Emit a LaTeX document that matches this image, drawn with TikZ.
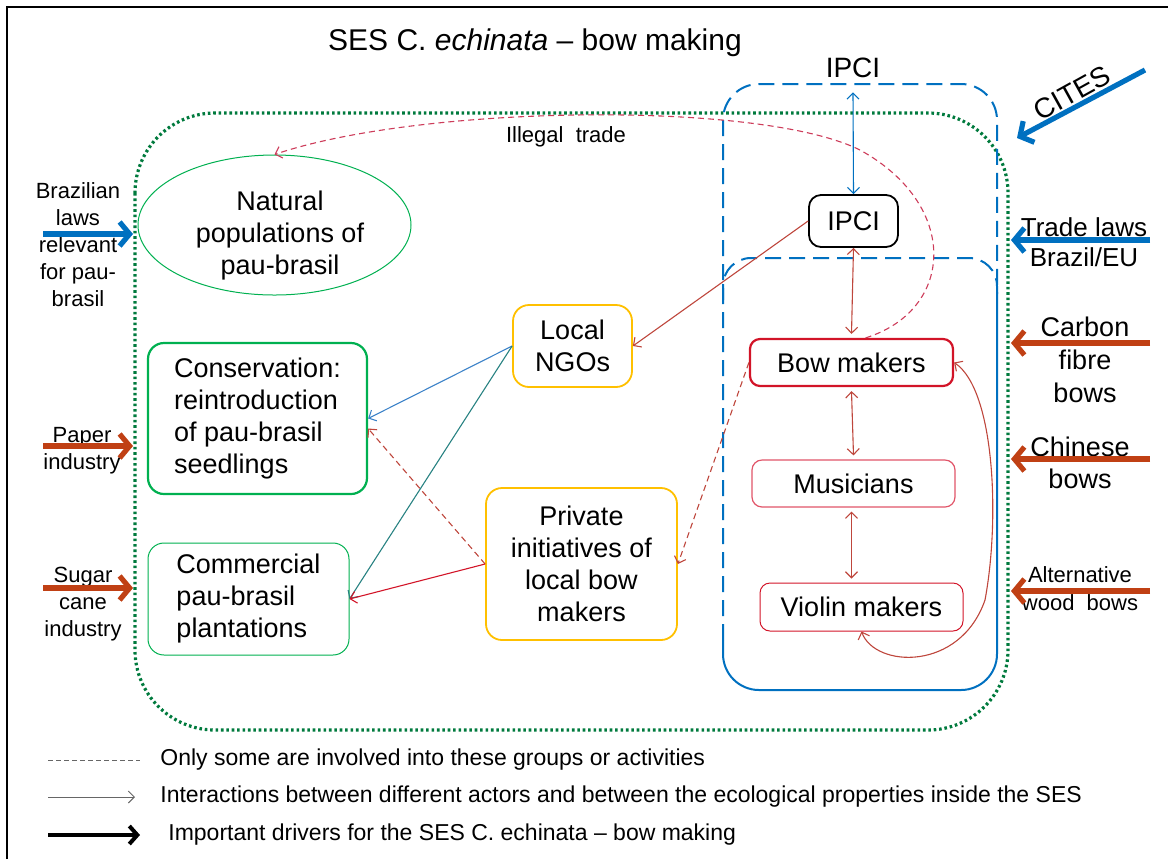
\documentclass[tikz,border=0pt]{standalone}
\usepackage{fontspec}
\setmainfont{Liberation Sans}
\usepackage{xcolor}
\usepackage{tikz}
\usetikzlibrary{arrows.meta,shapes.geometric}

\definecolor{sesgreen}{RGB}{0,122,61}
\definecolor{boxgreen}{RGB}{0,176,80}
\definecolor{ipciblue}{RGB}{0,112,192}
\definecolor{drvred}{RGB}{192,64,20}
\definecolor{ngoyellow}{RGB}{255,192,0}
\definecolor{bowred}{RGB}{210,20,40}
\definecolor{musred}{RGB}{225,85,105}
\definecolor{linkred}{RGB}{190,70,60}
\definecolor{linkblue}{RGB}{60,130,200}
\definecolor{linkteal}{RGB}{40,130,130}
\definecolor{illegalred}{RGB}{205,60,90}

\begin{document}
\begin{tikzpicture}[x=0.5pt,y=-0.5pt,
    >={Straight Barb[length=3pt,width=6pt]},
    actor/.style={draw,rounded corners=8pt,align=center,inner sep=2pt,font=\fontsize{13.5}{16}\selectfont},
    driver/.style={line width=2.6pt,-{Straight Barb[length=5pt,width=12pt]}},
    drvtext/.style={align=center,inner sep=0pt,font=\fontsize{11}{13.5}\selectfont},
    legtext/.style={anchor=west,inner sep=0pt,font=\fontsize{11.5}{13}\selectfont},
    link/.style={line width=0.55pt},
    ipcidash/.style={ipciblue,line width=1pt,dash pattern=on 8pt off 4pt}]
        \useasboundingbox (0,0) rectangle (1168,859);
        % Frame
        \draw[line width=1pt] (7,859) -- (7,7) -- (1168,7);

        % Title
        \node[font=\fontsize{15}{17}\selectfont] (title) at (535,43) {SES C. \textit{echinata} -- bow making};

        % SES boundary
        \draw[sesgreen,line width=1.6pt,dash pattern=on 1.3pt off 1.4pt,rounded corners=40pt] (135,113) rectangle (1008,730);

        % IPCI group and bow making group
        \draw[ipcidash,rounded corners=18pt] (723,640) -- (723,84) -- (997,84) -- (997,292);
        \draw[ipcidash,rounded corners=14pt] (723,300) -- (723,258) -- (997,258) -- (997,300);
        \draw[ipciblue,line width=1pt,rounded corners=18pt] (997,292) -- (997,690) -- (723,690) -- (723,640);
        \node[font=\fontsize{14}{16}\selectfont,inner sep=2pt] (ipcitop) at (853,68) {IPCI};

        % Ecological properties
        \node[draw=boxgreen,ellipse,line width=0.5pt,minimum width=136.5pt,minimum height=70pt] (nat) at (274.5,225) {};
        \node[align=center,font=\fontsize{13.5}{16}\selectfont] (nattext) at (280,236) {Natural\\populations of\\pau-brasil};
        \node[actor,draw=boxgreen,line width=1.1pt,align=left,minimum width=109.5pt,minimum height=75.5pt] (cons) at (257.5,418.5)
            {Conservation:\\reintroduction\\of pau-brasil\\seedlings};
        \node[actor,draw=boxgreen,line width=0.5pt,align=left,minimum width=100.5pt,minimum height=56pt] (comm) at (248.5,599)
            {Commercial\\pau-brasil\\plantations};

        % Actors
        \node[actor,draw=ngoyellow,line width=0.9pt,minimum width=59.5pt,minimum height=41pt] (ngo) at (572.5,346) {Local\\NGOs};
        \node[actor,draw=ngoyellow,line width=0.9pt,minimum width=95.5pt,minimum height=76pt] (priv) at (581.5,564)
            {Private\\initiatives of\\local bow\\makers};
        \node[actor,line width=0.9pt,minimum width=44.5pt,minimum height=26pt,rounded corners=6pt] (ipci) at (853.5,221) {IPCI};
        \node[actor,draw=bowred,line width=1.1pt,minimum width=101.5pt,minimum height=23.5pt,rounded corners=5pt] (bow) at (851.5,362.5) {Bow makers};
        \node[actor,draw=musred,line width=0.6pt,minimum width=101.5pt,minimum height=23.5pt,rounded corners=5pt] (mus) at (853.5,483.5) {Musicians};
        \node[actor,draw=bowred,line width=0.5pt,minimum width=101.5pt,minimum height=24pt,rounded corners=5pt] (violin) at (861.5,607) {Violin makers};

        % Interactions
        \draw[link,ipciblue,<->] ([yshift=-5pt]ipcitop.south) -- (ipci.north);
        \draw[link,linkred,<->] (ipci.south) -- ([yshift=2pt]bow.north);
        \draw[link,linkred,<->] ([yshift=-2pt]bow.south) -- ([yshift=2pt]mus.north);
        \draw[link,linkred,<->] ([xshift=-1pt,yshift=-2pt]mus.south) -- ([xshift=-5pt,yshift=2pt]violin.north);
        \draw[link,linkred,<->] (violin.south) .. controls (875,668) and (960,672) .. (985,600)
            .. controls (1000,520) and (995,390) .. (bow.east);
        \draw[link,linkred,->] (ipci.west) -- (ngo.east);
        \draw[link,linkblue,->] (ngo.west) -- (cons.east);
        \draw[link,linkteal,->] (ngo.west) -- (comm.east);
        \draw[link,linkred,dash pattern=on 3pt off 2pt,->] (priv.west) -- ([yshift=-5pt]cons.east);
        \draw[link,bowred,->] (priv.west) -- (comm.east);
        \draw[link,linkred,dash pattern=on 3pt off 2pt,->] (bow.west) -- (priv.east);

        % Illegal trade
        \draw[link,illegalred,dash pattern=on 3pt off 2pt,->] ([xshift=7pt]bow.north) .. controls (955,310) and (960,205) .. (860,150)
            .. controls (760,100) and (420,105) .. (nat.north);
        \node[font=\fontsize{11}{13}\selectfont] (illegal) at (566,137) {Illegal\ \ trade};

        % Drivers, left
        \node[drvtext] (brazil) at (78,245) {Brazilian\\laws\\relevant\\for pau-\\brasil};
        \coordinate (brazilstart) at (43,234);
        \coordinate (brazilend) at (133,234);
        \draw[driver,ipciblue] (brazilstart) -- (brazilend);
        \node[drvtext] (paper) at (82,451) {Paper\\industry};
        \coordinate (paperstart) at (43,446);
        \coordinate (paperend) at (133,446);
        \draw[driver,drvred] (paperstart) -- (paperend);
        \node[drvtext] (sugar) at (83,604) {Sugar\\cane\\industry};
        \coordinate (sugarstart) at (43,588);
        \coordinate (sugarend) at (133,588);
        \draw[driver,drvred] (sugarstart) -- (sugarend);

        % Drivers, right
        \node[drvtext,font=\fontsize{13}{15}\selectfont] (trade) at (1084,242) {Trade laws\\Brazil/EU};
        \coordinate (tradestart) at (1150,240);
        \coordinate (tradeend) at (1011,240);
        \draw[driver,ipciblue] (tradestart) -- (tradeend);
        \node[drvtext,font=\fontsize{13.5}{16.5}\selectfont] (carbon) at (1085,360) {Carbon\\fibre\\bows};
        \coordinate (carbonstart) at (1150,343);
        \coordinate (carbonend) at (1011,343);
        \draw[driver,drvred] (carbonstart) -- (carbonend);
        \node[drvtext,font=\fontsize{13.5}{16}\selectfont] (chinese) at (1080,463) {Chinese\\bows};
        \coordinate (chinesestart) at (1150,459);
        \coordinate (chineseend) at (1011,459);
        \draw[driver,drvred] (chinesestart) -- (chineseend);
        \node[drvtext,font=\fontsize{11}{14}\selectfont] (altwood) at (1080,589) {Alternative\\wood\ \ bows};
        \coordinate (altwoodstart) at (1150,591);
        \coordinate (altwoodend) at (1011,591);
        \draw[driver,drvred] (altwoodstart) -- (altwoodend);
        \node[rotate=29,font=\fontsize{14}{16}\selectfont] (cites) at (1072,93) {CITES};
        \coordinate (citesstart) at (1145,70);
        \coordinate (citesend) at (1017,138);
        \draw[driver,ipciblue] (citesstart) -- (citesend);

        % Legend
        \coordinate (dasha) at (48,760);
        \coordinate (dashb) at (140,760);
        \draw[gray!80!black,line width=0.5pt,dash pattern=on 2.5pt off 1.5pt] (dasha) -- (dashb);
        \node[legtext] (legdash) at (160,760) {Only some are involved\ into these groups or activities};
        \coordinate (inta) at (48,797);
        \coordinate (intb) at (135,797);
        \draw[gray!80!black,line width=0.5pt,->] (inta) -- (intb);
        \node[legtext] (legint) at (160,797) {Interactions between different actors and between the ecological properties inside the SES};
        \coordinate (drva) at (48,835);
        \coordinate (drvb) at (140,835);
        \draw[line width=2pt,-{Straight Barb[length=4pt,width=9pt]}] (drva) -- (drvb);
        \node[legtext] (legdrv) at (168,835) {Important drivers for the SES C. echinata -- bow making};
    \end{tikzpicture}
\end{document}
